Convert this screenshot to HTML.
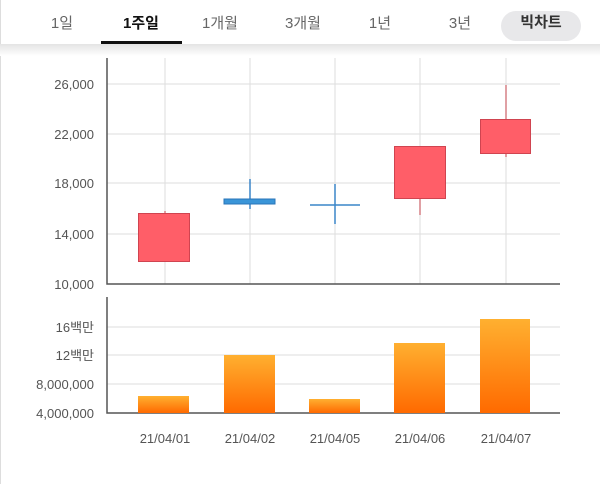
<!DOCTYPE html>
<html><head><meta charset="utf-8"><style>
body{margin:0;width:600px;height:484px;background:#fff;overflow:hidden;font-family:"Liberation Sans","Noto Sans CJK KR",sans-serif;}
</style></head><body>
<svg width="600" height="484" xmlns="http://www.w3.org/2000/svg" style="position:absolute;left:0;top:0">
<defs>
<linearGradient id="g" x1="0" y1="0" x2="0" y2="1"><stop offset="0" stop-color="#ffb030"/><stop offset="1" stop-color="#ff6a00"/></linearGradient>
<linearGradient id="sh" x1="0" y1="0" x2="0" y2="1"><stop offset="0" stop-color="#e4e4e4"/><stop offset="1" stop-color="#fff"/></linearGradient>
</defs>
<rect x="0" y="0" width="1" height="484" fill="#ddd"/>
<rect x="0" y="44" width="600" height="12" fill="url(#sh)"/>
<g font-size="15" fill="#666" text-anchor="middle">
<text x="62" y="28">1일</text>
<text x="141" y="28" font-weight="bold" fill="#111">1주일</text>
<text x="220" y="28">1개월</text>
<text x="303" y="28">3개월</text>
<text x="380" y="28">1년</text>
<text x="460" y="28">3년</text>
</g>
<rect x="101" y="41" width="81" height="3" fill="#111"/>
<rect x="501" y="11" width="80" height="30" rx="15" fill="#e8e8ea"/>
<text x="541" y="27" font-size="15" font-weight="bold" fill="#333" text-anchor="middle">빅차트</text>
<g stroke="#ddd" stroke-width="1">
<line x1="107" y1="84" x2="560" y2="84"/><line x1="107" y1="134" x2="560" y2="134"/><line x1="107" y1="183" x2="560" y2="183"/><line x1="107" y1="234" x2="560" y2="234"/>
<line x1="165" y1="58" x2="165" y2="284"/><line x1="250" y1="58" x2="250" y2="284"/><line x1="335" y1="58" x2="335" y2="284"/><line x1="420" y1="58" x2="420" y2="284"/><line x1="506" y1="58" x2="506" y2="284"/>
<line x1="107" y1="327" x2="560" y2="327"/><line x1="107" y1="355" x2="560" y2="355"/><line x1="107" y1="384" x2="560" y2="384"/>
</g>
<path d="M107 58V284H560M107 297V413H560" stroke="#555" stroke-width="1.5" fill="none"/>
<g font-size="13" fill="#555" text-anchor="end">
<text x="94" y="89">26,000</text><text x="94" y="139">22,000</text><text x="94" y="188">18,000</text><text x="94" y="239">14,000</text><text x="94" y="289">10,000</text>
<text x="94" y="332">16백만</text><text x="94" y="360">12백만</text><text x="94" y="389">8,000,000</text><text x="94" y="418">4,000,000</text>
</g>
<g stroke="#c0404a" stroke-width="1"><line x1="165" y1="211" x2="165" y2="262"/><line x1="420" y1="146" x2="420" y2="215"/><line x1="506" y1="85" x2="506" y2="157"/></g>
<g fill="#ff5e68" stroke="#d04450">
<rect x="138.5" y="213.5" width="51" height="48"/>
<rect x="394.5" y="146.5" width="51" height="52"/>
<rect x="480.5" y="119.5" width="50" height="34"/>
</g>
<g stroke="#3a85c8" stroke-width="1.5"><line x1="250" y1="179" x2="250" y2="209"/><line x1="335" y1="184" x2="335" y2="224"/><line x1="310" y1="205" x2="360" y2="205"/></g>
<rect x="224" y="199" width="51" height="5" fill="#3a95d8" stroke="#2a75b8"/>
<g fill="url(#g)">
<rect x="138" y="396" width="51" height="17"/><rect x="224" y="355" width="51" height="58"/><rect x="309" y="399" width="51" height="14"/><rect x="394" y="343" width="51" height="70"/><rect x="480" y="319" width="50" height="94"/>
</g>
<g font-size="13" fill="#555" text-anchor="middle">
<text x="165" y="443">21/04/01</text><text x="250" y="443">21/04/02</text><text x="335" y="443">21/04/05</text><text x="420" y="443">21/04/06</text><text x="506" y="443">21/04/07</text>
</g>
</svg>
</body></html>
